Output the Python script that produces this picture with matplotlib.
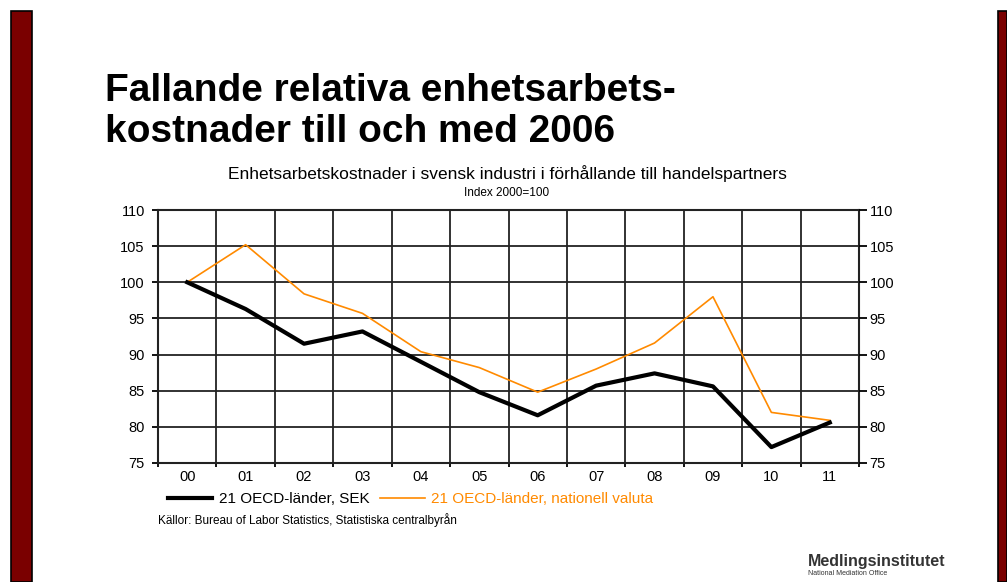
import matplotlib
matplotlib.use("Agg")
import matplotlib.pyplot as plt
from matplotlib.patches import Rectangle
import numpy as np

plt.rcParams["font.family"] = ["Liberation Sans", "DejaVu Sans"]

# Data (index 2000 = 100)
years = ["00", "01", "02", "03", "04", "05", "06", "07", "08", "09", "10", "11"]
sek = [100, 96.3, 91.5, 93.2, 89.0, 84.8, 81.6, 85.7, 87.4, 85.6, 77.2, 80.6]
national = [100, 105.2, 98.4, 95.7, 90.4, 88.2, 84.8, 88.0, 91.6, 98.0, 82.0, 80.9]
y_ticks = [75, 80, 85, 90, 95, 100, 105, 110]

W, H = 1007, 582
ORANGE = "#FF8A00"
BORDER = "#7A0000"
GRID = "#222222"

fig = plt.figure(figsize=(W / 100, H / 100), dpi=100)
fig.patch.set_facecolor("white")


def px(x, y):
    return x / W, 1 - y / H


# dark red side bars of the slide
for x0, x1 in [(11, 32), (998, 1007)]:
    fig.patches.append(Rectangle((x0 / W, 0), (x1 - x0) / W, 1 - 11 / H,
                                 transform=fig.transFigure, facecolor=BORDER,
                                 edgecolor="black", linewidth=1.2))

# title
fig.text(*px(105, 101), "Fallande relativa enhetsarbets-", fontsize=28,
         fontweight="bold", ha="left", va="baseline")
fig.text(*px(105, 142), "kostnader till och med 2006", fontsize=28,
         fontweight="bold", ha="left", va="baseline")
fig.text(*px(507, 179), "Enhetsarbetskostnader i svensk industri i förhållande till handelspartners",
         fontsize=12.5, ha="center", va="baseline")
fig.text(*px(507, 196), "Index 2000=100", fontsize=8.5, ha="center", va="baseline")

# plot area
l, r, t, b = 158, 859, 210, 463
ax = fig.add_axes([l / W, 1 - b / H, (r - l) / W, (b - t) / H])
x = np.arange(len(years))
ax.plot(x, sek, color="black", linewidth=3.0, label="21 OECD-länder, SEK", zorder=4)
ax.plot(x, national, color=ORANGE, linewidth=1.2, label="21 OECD-länder, nationell valuta", zorder=3)

ax.set_xlim(-0.5, len(years) - 0.5)
ax.set_ylim(75, 110)
ax.set_yticks(y_ticks)
ax.set_xticks(x)
ax.set_xticklabels(years)
ax.set_xticks(np.arange(-0.5, len(years), 1.0), minor=True)
ax.grid(True, which="minor", axis="x", color=GRID, linewidth=1.3)
ax.grid(True, which="major", axis="y", color=GRID, linewidth=1.3)
ax.tick_params(axis="x", which="major", length=0, pad=5, labelsize=10.5)
ax.tick_params(axis="x", which="minor", length=3, width=1.3, direction="out")
ax.tick_params(axis="y", length=4.5, width=1.3, direction="out", labelsize=10.5, pad=5)
for s in ax.spines.values():
    s.set_linewidth(1.5)
    s.set_color(GRID)
ax.set_axisbelow(True)

# right-hand scale (same index)
ax2 = ax.twinx()
ax2.set_ylim(ax.get_ylim())
ax2.set_yticks(y_ticks)
ax2.tick_params(axis="y", length=5.5, width=1.3, direction="out", labelsize=10.5, pad=2)
for s in ax2.spines.values():
    s.set_visible(False)

leg = ax.legend(loc="upper left", bbox_to_anchor=(0.014, -0.115), ncol=2,
                frameon=False, fontsize=11, handlelength=2.9, handletextpad=0.45,
                columnspacing=0.7, borderaxespad=0, borderpad=0)
for txt, c in zip(leg.get_texts(), ["black", ORANGE]):
    txt.set_color(c)

fig.text(*px(158, 524), "Källor: Bureau of Labor Statistics, Statistiska centralbyrån",
         fontsize=8.5, ha="left", va="baseline")

# logo
fig.text(*px(808, 566), "Medlingsinstitutet", fontsize=11.5, fontweight="bold",
         color="#333333", ha="left", va="baseline")
fig.text(*px(808, 575), "National Mediation Office", fontsize=5,
         color="#333333", ha="left", va="baseline")

fig.savefig("out.png", dpi=100)
